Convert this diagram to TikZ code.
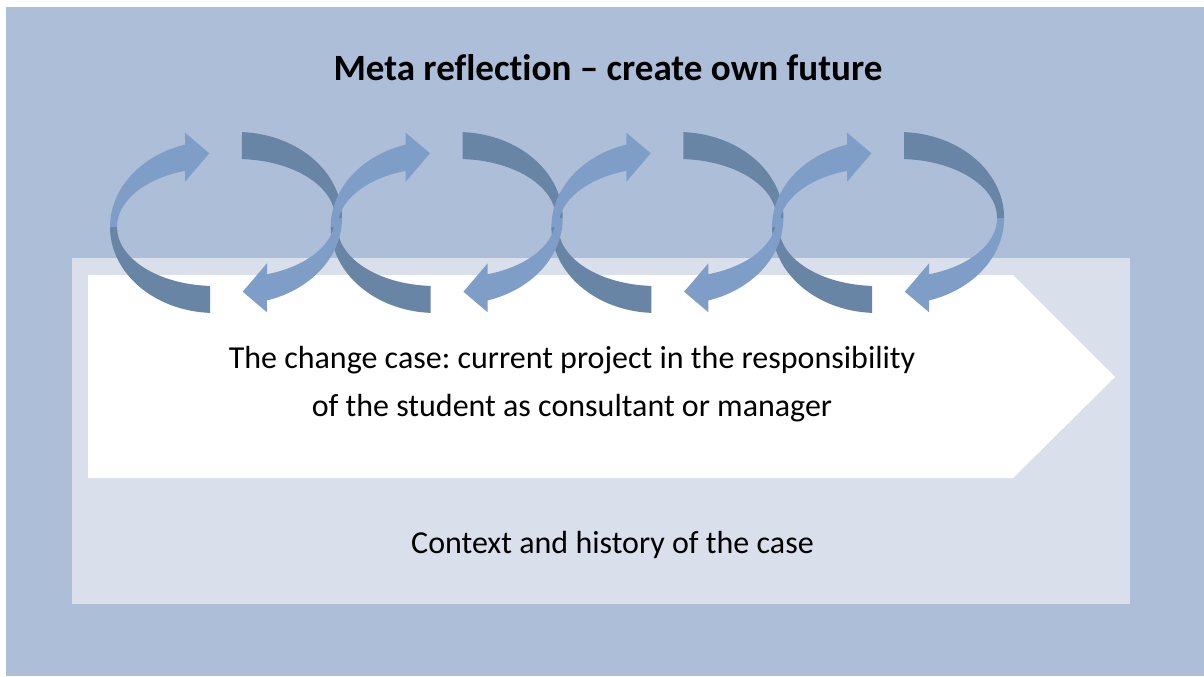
\documentclass[tikz,border=0pt]{standalone}
\usepackage{fontspec}
\setmainfont{Carlito}[Ligatures={TeX,NoCommon}]
\usepackage{tikz}

\definecolor{bgblue}{RGB}{173,190,217}
\definecolor{panelblue}{RGB}{217,224,236}
\definecolor{swirllight}{RGB}{127,158,199}
\definecolor{swirldark}{RGB}{104,133,166}

% back half of one swirl (lower left part of the C)
\newcommand{\swirlback}{(215,-227) ++(267.27:105 and 86)
  arc[start angle=267.27,end angle=180,x radius=105,y radius=86]
  -- (117,-227) arc[start angle=180,end angle=267.08,x radius=98,y radius=59] -- cycle}
% front half of one swirl, with its arrow head
\newcommand{\swirlfront}{(110,-227)
  arc[start angle=180,end angle=106.6,x radius=105,y radius=86]
  -- (185,-132.7) -- (209.3,-153.3) -- (185,-181.7) -- (185,-170.8)
  arc[start angle=107.8,end angle=180,x radius=98,y radius=59] -- cycle}

\begin{document}
\frenchspacing
\begin{tikzpicture}[x=0.75pt,y=0.75pt,
  label/.style={inner sep=0pt,text=black},
  back/.style={fill=swirldark},
  front/.style={fill=swirllight}]
  \fill[white] (0,0) rectangle (1204,-676);
  \useasboundingbox (0,0) rectangle (1204,-676);
  \fill[bgblue] (6,-7) rectangle (1204,-676);
  \fill[panelblue] (72,-258) rectangle (1130,-604);
  \fill[white] (88,-275) -- (1013,-275) -- (1115,-377) -- (1013,-478) -- (88,-478) -- cycle;
  %the swirls: all back halves first
  \foreach \k in {0,...,3}{
    \begin{scope}[shift={(220.7*\k,0)}]
      \fill[back] \swirlback;
      \fill[back,rotate around={180:(226,-222.5)}] \swirlback;
    \end{scope}
  }
  \foreach \k in {0,...,3}{
    \begin{scope}[shift={(220.7*\k,0)}]
      \fill[front] \swirlfront;
      \fill[front,rotate around={180:(226,-222.5)}] \swirlfront;
    \end{scope}
  }
  \node[label,anchor=base,font=\fontsize{27.8}{33}\selectfont\bfseries] (title) at (608,-80.7) {Meta reflection – create own future};
  \node[label,anchor=base,align=center,font=\fontsize{24}{36.3}\selectfont] (caseText) at (572,-416.7)
    {The change case: current project in the responsibility\\ of the student as consultant or manager};
  \node[label,anchor=base,font=\fontsize{24}{29}\selectfont] (contextText) at (612.5,-553) {Context and history of the case};
\end{tikzpicture}
\end{document}
